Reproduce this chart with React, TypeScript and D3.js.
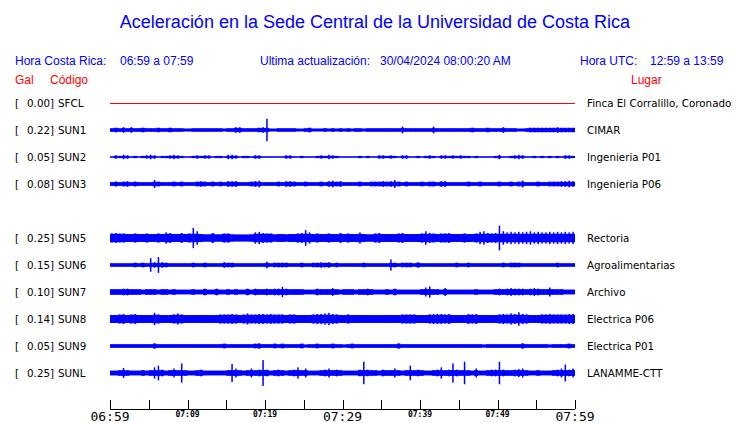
import * as d3 from "d3";

// station rows (SUN4 slot is empty in the plot)
const slots = ["SFCL", "SUN1", "SUN2", "SUN3", "SUN4", "SUN5", "SUN6", "SUN7", "SUN8", "SUN9", "SUNL"];
const codes = ["SFCL", "SUN1", "SUN2", "SUN3", "SUN5", "SUN6", "SUN7", "SUN8", "SUN9", "SUNL"];
const gal = [0.0, 0.22, 0.05, 0.08, 0.25, 0.15, 0.1, 0.14, 0.05, 0.25];
const places = [
  "Finca El Corralillo, Coronado",
  "CIMAR",
  "Ingenieria P01",
  "Ingenieria P06",
  "Rectoria",
  "Agroalimentarias",
  "Archivo",
  "Electrica P06",
  "Electrica P01",
  "LANAMME-CTT",
];

// tick times (every 5 minutes) and which get labels
const tickTimes = ["06:59", "07:04", "07:09", "07:14", "07:19", "07:24", "07:29", "07:34", "07:39", "07:44", "07:49", "07:54", "07:59"];
const bigLabels = ["06:59", "07:29", "07:59"];
const smallLabels = ["07:09", "07:19", "07:39", "07:49"];

// envelope of each trace, half amplitude per 30 s bin (relative units)
const ampSFCL: number[] = [0, 0];
const ampSUN1 = [
  1.5, 2, 1.5, 2.5, 1.5, 2.5, 1.5, 1.5, 2, 1.5, 1.5, 1.5, 2, 1.5, 1.5, 2, 1.5, 1.5, 1.5, 1,
  1, 1.5, 1.5, 1.5, 1.5, 1.5, 1.5, 1.5, 1.5, 1, 1.5, 1.5, 2.5, 2.5, 1.5, 1.5, 1.5, 1.5, 2, 2.5,
  10, 1, 0.5, 1.5, 1.5, 1.5, 1.5, 1.5, 1, 0.5, 1.5, 2, 1, 1, 1, 1.5, 1, 1.5, 1, 1.5,
  1, 1.5, 1, 1.5, 1.5, 1, 1.5, 1.5, 1.5, 1.5, 1.5, 1.5, 1.5, 1.5, 1.5, 3, 1.5, 1.5, 1.5, 1.5,
  1.5, 1.5, 1.5, 3, 1.5, 1.5, 1.5, 1.5, 1.5, 1.5, 1.5, 1.5, 1.5, 2, 1.5, 1.5, 1.5, 2, 1.5, 1.5,
  1.5, 2.5, 1.5, 1.5, 1.5, 1, 1, 1.5, 2, 2, 2, 2, 2, 2, 2, 2.5, 2, 2, 2, 2,
];
const ampSUN2 = [
  0.5, 1.5, 1, 2, 1.5, 0.5, 1, 0.5, 1, 1.5, 2, 1.5, 0.5, 1, 1, 1.5, 2, 1.5, 1, 0.5,
  0.5, 1, 1.5, 1, 1.5, 1.5, 0.5, 1, 1, 0.5, 2, 2, 1.5, 0.5, 1, 1, 0.5, 1.5, 1.5, 0.5,
  0.5, 0.5, 0.5, 0.5, 0.5, 1.5, 1.5, 0.5, 0.5, 1, 0.5, 0.5, 0.5, 1, 1.5, 1, 2, 1.5, 1, 0.5,
  0.5, 0.5, 0.5, 0.5, 1, 0.5, 1, 0.5, 0.5, 1.5, 1.5, 1, 1.5, 1, 0.5, 1.5, 1.5, 0.5, 0.5, 1,
  0.5, 1, 1.5, 1, 0.5, 1.5, 1.5, 1, 1.5, 1, 1.5, 1, 1, 0.5, 1, 0.5, 0.5, 0.5, 0.5, 1,
  2, 0.5, 0.5, 1, 1.5, 2, 1.5, 0.5, 0.5, 1, 0.5, 1, 0.5, 1, 0.5, 1, 0.5, 1.5, 1.5, 1,
];
const ampSUN3 = [
  1.5, 2, 1.5, 2, 2.5, 1.5, 2, 1.5, 1.5, 1.5, 1.5, 3.5, 2, 1.5, 1.5, 1.5, 2, 1.5, 2, 1.5,
  1.5, 1.5, 2, 2.5, 2, 1.5, 2, 1.5, 2, 1.5, 2.5, 2.5, 2.5, 1.5, 1.5, 1.5, 2, 2.5, 3, 1.5,
  1.5, 1.5, 1.5, 2, 1.5, 2.5, 2.5, 2, 1.5, 1.5, 2, 1.5, 1.5, 1.5, 2, 1.5, 2.5, 3, 2, 2.5,
  1.5, 1.5, 1.5, 1.5, 2, 1.5, 1.5, 2, 2, 2, 2.5, 2, 2.5, 3.5, 2, 1.5, 2, 1.5, 1.5, 1.5,
  2, 1.5, 2, 2, 1.5, 2.5, 2.5, 1.5, 1.5, 1.5, 1.5, 1.5, 2, 1.5, 1.5, 2, 1.5, 1.5, 1.5, 1.5,
  2, 1.5, 1.5, 2, 1.5, 2, 3, 1.5, 1.5, 1.5, 2, 1.5, 1.5, 2, 2, 2, 2.5, 2.5, 3, 2.5,
];
const ampSUN5 = [
  4, 4.5, 4, 4, 3.5, 3.5, 4, 3.5, 3.5, 4, 3.5, 3.5, 4, 3.5, 5, 4.5, 3.5, 3.5, 4.5, 3.5,
  4, 9, 6, 3.5, 3, 3, 4.5, 3, 3, 4, 4, 3, 2.5, 2.5, 2.5, 2.5, 3, 5, 5.5, 4.5,
  4, 4, 3, 3.5, 3.5, 3, 3.5, 3.5, 4, 4.5, 7, 5, 3.5, 4, 3.5, 3.5, 4, 3.5, 3.5, 4.5,
  3.5, 4, 3.5, 3.5, 5, 3.5, 3, 3, 4, 4.5, 3.5, 3.5, 3.5, 3.5, 4, 4.5, 3.5, 3.5, 3.5, 3.5,
  4, 6, 4.5, 4, 3.5, 4, 4, 4.5, 3.5, 3.5, 3.5, 4, 3.5, 3.5, 4, 5.5, 6, 4.5, 4, 4.5,
  11, 6, 5, 5.5, 5, 5.5, 5, 5.5, 6, 5, 5.5, 5, 5, 5.5, 5, 5.5, 5, 5.5, 5, 5.5,
];
const ampSUN6 = [
  1.5, 1.5, 1.5, 1.5, 1.5, 1.5, 2, 1.5, 2, 1.5, 6, 2.5, 7, 2.5, 2, 1.5, 1.5, 1.5, 1.5, 1.5,
  1.5, 2, 1.5, 1.5, 2, 1.5, 1.5, 1.5, 1.5, 2.5, 2, 2, 1.5, 1.5, 1.5, 1.5, 1.5, 1.5, 1.5, 1.5,
  3, 1.5, 2, 2, 2, 2, 1.5, 1.5, 1.5, 2, 1.5, 1.5, 2, 2, 2.5, 2, 2.5, 1.5, 2, 1.5,
  1.5, 1.5, 1.5, 1.5, 1.5, 2, 1.5, 1.5, 1.5, 1.5, 1.5, 1.5, 5, 2, 1.5, 2, 2, 2, 1.5, 2.5,
  1.5, 1.5, 1.5, 1.5, 1.5, 1.5, 1.5, 1.5, 1.5, 2, 1.5, 1.5, 2, 1.5, 1.5, 1.5, 1.5, 1.5, 1.5, 1.5,
  1.5, 2, 1.5, 2, 2, 2, 1.5, 1.5, 1.5, 1.5, 1.5, 1.5, 1.5, 1.5, 1.5, 2, 1.5, 1.5, 1.5, 1.5,
];
const ampSUN7 = [
  2.5, 2.5, 2.5, 3, 3, 2.5, 2.5, 2.5, 2, 2.5, 2.5, 2.5, 2, 2.5, 2.5, 2, 2.5, 2, 2, 2,
  2, 2.5, 2, 2, 3, 2, 2, 3, 2, 2, 2.5, 2, 2.5, 2, 2, 3, 2, 3, 2.5, 2.5,
  3, 2.5, 3, 3, 4.5, 3, 2.5, 2.5, 2.5, 2.5, 2, 2, 2, 3, 2.5, 2.5, 2.5, 3.5, 2.5, 2,
  2.5, 2.5, 2.5, 2, 2.5, 2.5, 3, 2.5, 2, 2, 2, 2.5, 2, 3, 2, 2, 2, 2, 2, 2,
  2.5, 4, 5, 2.5, 2.5, 2, 3.5, 2, 2, 2, 2, 2, 2, 2, 2.5, 2, 2, 2, 2, 2.5,
  3, 2.5, 3, 3.5, 3, 3, 3, 2.5, 3, 3.5, 3, 2.5, 2.5, 4, 2.5, 2.5, 2.5, 2, 2, 2,
];
const ampSUN8 = [
  3.5, 3.5, 4, 4.5, 3.5, 4, 4.5, 3.5, 3.5, 3.5, 3.5, 5.5, 4, 3.5, 3.5, 3.5, 4, 5, 4, 3.5,
  3.5, 3.5, 3.5, 3.5, 3.5, 3.5, 3.5, 3.5, 4, 4, 4, 4.5, 4, 3.5, 4, 5, 4, 4, 4.5, 4.5,
  4, 4.5, 4, 4, 4, 3.5, 4, 4, 3.5, 3.5, 3.5, 3.5, 4, 4.5, 4.5, 5, 5.5, 4.5, 4, 3.5,
  3.5, 4, 3.5, 3.5, 3.5, 3.5, 3.5, 3.5, 3.5, 3.5, 3.5, 3.5, 3.5, 3.5, 3.5, 4, 4, 4, 4, 3.5,
  3.5, 3.5, 4, 4.5, 4.5, 4.5, 4, 4.5, 3.5, 3.5, 3.5, 3.5, 4.5, 4, 4.5, 3.5, 3.5, 3.5, 3.5, 3.5,
  4, 4.5, 4, 5, 4.5, 6, 4.5, 4, 3.5, 3.5, 3.5, 4, 4, 4.5, 4, 4, 4, 4, 4.5, 4.5,
];
const ampSUN9 = [
  1.5, 1.5, 1.5, 1.5, 1.5, 1.5, 1.5, 1.5, 1.5, 1.5, 1.5, 2.5, 1.5, 1.5, 1.5, 1.5, 1.5, 1.5, 1.5, 1.5,
  1.5, 1.5, 1.5, 1.5, 1.5, 1.5, 1.5, 1.5, 1.5, 2, 1.5, 1.5, 1.5, 1.5, 1.5, 1.5, 1.5, 2, 2.5, 1.5,
  1.5, 1.5, 2, 1.5, 2, 1.5, 1.5, 1.5, 1.5, 2, 1, 1.5, 1.5, 2, 1.5, 1.5, 1.5, 2, 1.5, 1.5,
  1, 1.5, 2, 1.5, 1.5, 1.5, 1.5, 1.5, 1.5, 1.5, 1.5, 1.5, 1.5, 1.5, 2.5, 1.5, 1.5, 1.5, 1.5, 1.5,
  1.5, 1.5, 1.5, 1.5, 1.5, 1.5, 1.5, 1.5, 1.5, 1.5, 1.5, 1.5, 1.5, 1.5, 1.5, 1.5, 1, 1.5, 1.5, 1.5,
  1.5, 1.5, 1.5, 1.5, 1.5, 1.5, 2.5, 1.5, 1.5, 1.5, 1.5, 1.5, 1.5, 1, 1.5, 1.5, 1.5, 1.5, 2, 1.5,
];
const ampSUNL = [
  2, 2, 2.5, 4.5, 2.5, 2, 2, 2, 2.5, 2, 2.5, 5, 6.5, 3, 2, 2.5, 4, 2.5, 8.5, 2.5,
  2, 2, 2.5, 3, 2, 2, 2, 2, 2, 2, 2.5, 8, 4, 2.5, 2, 2.5, 4, 2.5, 3, 11.5,
  3, 2, 2.5, 3, 2.5, 2, 2.5, 3, 5, 2.5, 4, 2, 2, 2, 2.5, 3, 4, 2.5, 3, 2.5,
  2, 2, 2, 2, 3, 10, 3, 2.5, 2.5, 2, 3, 2.5, 2.5, 4, 2.5, 2, 2.5, 6.5, 2.5, 3,
  2.5, 2, 2, 2.5, 3, 5, 2.5, 3, 8.5, 3, 2.5, 10, 2.5, 2, 4, 2, 2, 2.5, 3, 3,
  10, 3, 2.5, 2.5, 3, 3.5, 4, 2.5, 2, 2, 2.5, 2, 2, 2, 2.5, 3, 4, 7.5, 3, 4,
];
const traces = [ampSFCL, ampSUN1, ampSUN2, ampSUN3, ampSUN5, ampSUN6, ampSUN7, ampSUN8, ampSUN9, ampSUNL];
// continuous noise level of each trace
const noiseFloor = [0, 1.3, 0.5, 1.4, 3.2, 1.3, 2, 3.2, 1.4, 2];

const W = 740;
const H = 423;
const BLUE = "#0000ff";
const RED = "#ff0000";

const day = new Date(2024, 3, 30);
const toDate = (s: string) => {
  const [h, m] = s.split(":").map(Number);
  return new Date(day.getFullYear(), day.getMonth(), day.getDate(), h, m);
};

export default function App() {
  const t0 = toDate("06:59");
  const t1 = toDate("07:59");
  const x = d3.scaleTime().domain([t0, t1]).range([110, 575]);
  const y = d3.scalePoint<string>().domain(slots).range([103, 373]);
  const amp = d3.scaleLinear().domain([0, 12]).range([0, 13.5]);
  const axisY = 409;

  const hdr = { fontFamily: "'Liberation Sans', Arial, sans-serif", fontSize: 12 };
  const lbl = { fontFamily: "'DejaVu Sans', sans-serif", fontSize: 10.3 };

  return (
    <svg width={W} height={H} style={{ position: "absolute", left: 0, top: 0, background: "#fff" }}>
      <text x={375} y={28} textAnchor="middle" fill={BLUE} fontFamily="'Liberation Sans', Arial, sans-serif" fontSize={18}>
        Aceleración en la Sede Central de la Universidad de Costa Rica
      </text>
      <g {...hdr} fill={BLUE}>
        <text x={15} y={65}>Hora Costa Rica:</text>
        <text x={120} y={65}>06:59 a 07:59</text>
        <text x={260} y={65}>Ultima actualización:</text>
        <text x={380} y={65}>30/04/2024 08:00:20 AM</text>
        <text x={580} y={65}>Hora UTC:</text>
        <text x={650} y={65}>12:59 a 13:59</text>
      </g>
      <g {...hdr} fill={RED}>
        <text x={15} y={84}>Gal</text>
        <text x={50} y={84}>Código</text>
        <text x={631} y={84}>Lugar</text>
      </g>

      {codes.map((c, i) => {
        const yc = y(c) as number;
        const data = traces[i];
        const n = data.length;
        const step = (t1.getTime() - t0.getTime()) / n;
        const w = x(new Date(t0.getTime() + step)) - x(t0);
        const fl = amp(noiseFloor[i]);
        const cap = fl + amp(0.6);
        return (
          <g key={c}>
            <g {...lbl} fill="#000">
              <text x={15} y={yc + 4}>[</text>
              <text x={50} y={yc + 4} textAnchor="end">{gal[i].toFixed(2)}</text>
              <text x={50} y={yc + 4}>]</text>
              <text x={58} y={yc + 4}>{c}</text>
              <text x={587} y={yc + 4}>{places[i]}</text>
            </g>
            {c === "SFCL" ? (
              <line x1={x(t0)} x2={x(t1)} y1={yc + 0.5} y2={yc + 0.5} stroke={RED} strokeWidth={1} />
            ) : (
              <g fill={BLUE}>
                <rect x={x(t0)} width={x(t1) - x(t0)} y={yc - fl} height={Math.max(1, 2 * fl)} />
                {data.map((v, k) => {
                  const xs = x(new Date(t0.getTime() + k * step));
                  const a = amp(v);
                  const body = Math.min(a, cap);
                  return (
                    <g key={k}>
                      <rect x={xs} width={w} y={yc - body} height={Math.max(1, 2 * body)} />
                      {a > cap && <rect x={xs + w / 2 - 0.75} width={1.5} y={yc - a} height={2 * a} />}
                    </g>
                  );
                })}
              </g>
            )}
          </g>
        );
      })}

      <g>
        <line x1={x(t0)} x2={x(t1)} y1={axisY + 0.5} y2={axisY + 0.5} stroke="#000" />
        {tickTimes.map((t) => {
          const tx = Math.round(x(toDate(t))) + 0.5;
          return <line key={t} x1={tx} x2={tx} y1={axisY - 9} y2={axisY} stroke="#000" />;
        })}
        {bigLabels.map((t) => (
          <text key={t} x={x(toDate(t))} y={421} textAnchor="middle" fontFamily="'DejaVu Sans Mono', monospace" fontSize={13} fill="#000">
            {t}
          </text>
        ))}
        {smallLabels.map((t) => (
          <text key={t} x={x(toDate(t))} y={417} textAnchor="middle" fontFamily="'DejaVu Sans Mono', monospace" fontSize={8} fontWeight="bold" fill="#000">
            {t}
          </text>
        ))}
      </g>
    </svg>
  );
}
